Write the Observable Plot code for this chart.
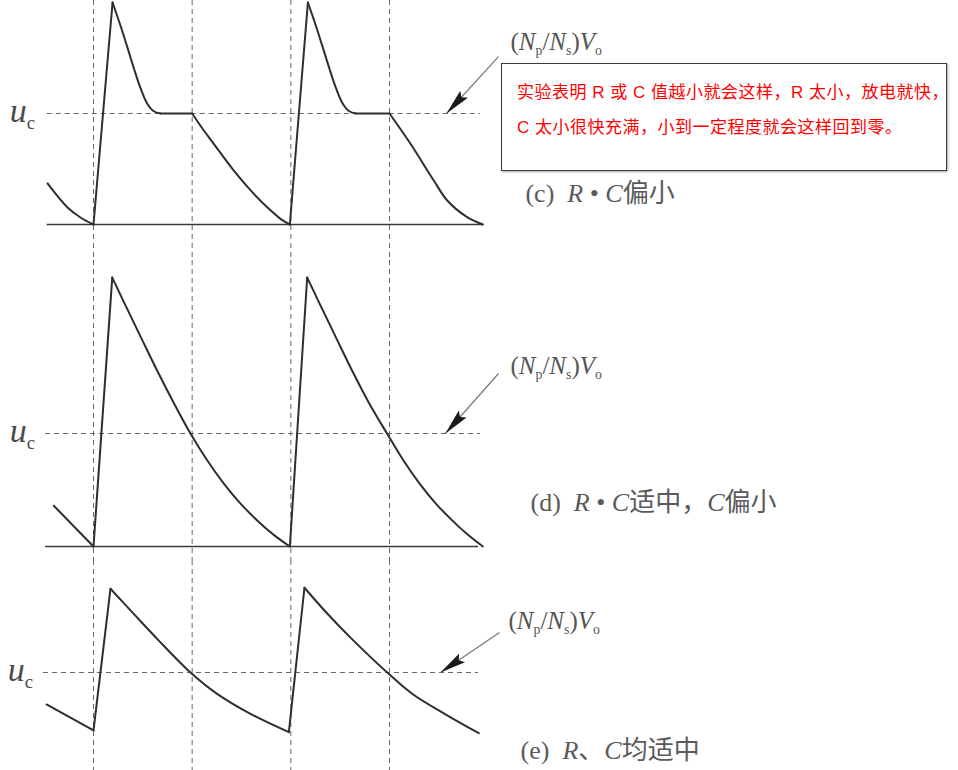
<!DOCTYPE html>
<html>
<head>
<meta charset="utf-8">
<script src="https://cdn.jsdelivr.net/npm/d3@7"></script>
<script src="https://cdn.jsdelivr.net/npm/@observablehq/plot@0.6"></script>
<style>
html,body{margin:0;padding:0;background:#fff;}
#chart{position:relative;width:958px;height:770px;overflow:hidden;background:#fff;}
#chart svg{display:block;overflow:visible;}
#note{position:absolute;left:501px;top:63px;width:446px;height:108px;box-sizing:border-box;
  padding:11px 0 0 15px;border:1.5px solid #3a3a3a;box-shadow:1px 1px 2px rgba(0,0,0,.35);
  color:#ff0000;font-family:"Liberation Sans","Noto Sans CJK SC",sans-serif;font-size:17px;
  letter-spacing:0.5px;line-height:35px;white-space:nowrap;}
</style>
</head>
<body>
<div id="chart"></div>
<script>
// ---------- data (time in switching units, voltage in units of uc) ----------
const switchTimes = [1, 2, 3, 4];

// (c) R·C too small
const cT   = [0.534, 0.737, 0.868, 1.0,   1.0, 1.193,
              1.193, 1.274, 1.342, 1.408, 1.476, 1.544, 1.611, 1.679,
              1.679, 2.0,
              2.0, 2.084, 2.219, 2.422, 2.625, 2.760, 2.895, 2.990,
              2.990, 3.173,
              3.173, 3.254, 3.322, 3.389, 3.457, 3.525, 3.592, 3.660,
              3.660, 4.0,
              4.0, 4.213, 4.449, 4.585, 4.787, 4.945];
const cV   = [0.37, 0.153, 0.063, 0,      0, 2.0,
              2.0, 1.79, 1.60, 1.41, 1.23, 1.09, 1.02, 1.0,
              1.0, 1.0,
              1.0, 0.89, 0.727, 0.486, 0.276, 0.156, 0.051, 0,
              0, 2.0,
              2.0, 1.79, 1.60, 1.41, 1.23, 1.09, 1.02, 1.0,
              1.0, 1.0,
              1.0, 0.727, 0.396, 0.216, 0.066, 0];
const cSeg = [0, 0, 0, 0, 1, 1,
              2, 2, 2, 2, 2, 2, 2, 2,
              3, 3,
              4, 4, 4, 4, 4, 4, 4, 4,
              5, 5,
              6, 6, 6, 6, 6, 6, 6, 6,
              7, 7,
              8, 8, 8, 8, 8, 8];

// (d) R·C moderate, C too small
const dT   = [0.598, 1.0,   1.0, 1.190,
              1.190, 1.307, 1.476, 1.646, 1.814, 1.983, 2.152, 2.321, 2.490, 2.659, 2.827, 2.990,
              2.990, 3.166,
              3.166, 3.283, 3.452, 3.622, 3.792, 3.975, 4.140, 4.305, 4.470, 4.635, 4.795, 4.946];
const dV   = [0.36, 0,      0, 2.38,
              2.38, 2.165, 1.86, 1.555, 1.27, 1.0, 0.763, 0.557, 0.38, 0.231, 0.103, 0,
              0, 2.38,
              2.38, 2.165, 1.86, 1.555, 1.27, 1.0, 0.763, 0.557, 0.38, 0.231, 0.103, 0];
const dSeg = [0, 0, 1, 1,
              2, 2, 2, 2, 2, 2, 2, 2, 2, 2, 2, 2,
              3, 3,
              4, 4, 4, 4, 4, 4, 4, 4, 4, 4, 4, 4];

// (e) R, C both moderate
const eT   = [0.524, 1.0,   1.0, 1.172,
              1.172, 1.408, 1.645, 1.983, 2.253, 2.591, 2.980,
              2.980, 3.138,
              3.138, 3.371, 3.615, 3.977, 4.233, 4.567, 4.905];
const eV   = [0.717, 0.487,  0.487, 1.741,
              1.741, 1.519, 1.298, 1.0, 0.811, 0.634, 0.472,
              0.472, 1.75,
              1.75, 1.52, 1.30, 1.0, 0.81, 0.63, 0.463];
const eSeg = [0, 0, 1, 1,
              2, 2, 2, 2, 2, 2, 2,
              3, 3,
              4, 4, 4, 4, 4, 4, 4];

// extents of the reference lines [start, end] (time units)
const ucSpan   = {c: [0.531, 4.922], d: [0.514, 4.922], e: [0.493, 4.902]};
const baseSpan = {c: [0.531, 4.956], d: [0.514, 4.902], e: null};

// texts
const ucLabel   = "*u*_{c}";
const npnsLabel = "(*N*_{p}/*N*_{s})*V*_{o}";
const captions  = {c: "(c)  *R* • *C*偏小", d: "(d)  *R* • *C*适中，*C*偏小", e: "(e)  *R*、*C*均适中"};
const noteLines = ["实验表明 R 或 C 值越小就会这样，R 太小，放电就快，",
                   "C 太小很快充满，小到一定程度就会这样回到零。"];

// annotation anchors (data units)
const anno = {
  c: {uc: [0.15, 1.02], lab: [5.226, 1.64], arrow: [5.105, 1.513, 4.578, 1.0], cap: [5.378, 0.279]},
  d: {uc: [0.15, 1.02], lab: [5.226, 1.60], arrow: [5.105, 1.531, 4.567, 1.0], cap: [5.429, 0.389]},
  e: {uc: [0.13, 1.02], lab: [5.206, 1.46], arrow: [5.115, 1.354, 4.517, 1.0], cap: [5.328, 0.31]}
};

// ---------- helpers ----------
function rows(T, V, S) { return T.map((t, i) => ({t, v: V[i], seg: S[i]})); }

const serif = "Liberation Serif, 'Noto Sans CJK SC', serif";
const ink = "#2e2e2e";
const textInk = "#4a4a4a";

function panel(key, height, yRange, data) {
  const a = anno[key];
  const marks = [
    Plot.ruleX(switchTimes, {stroke: "#666", strokeWidth: 1, strokeDasharray: "5,4"}),
    Plot.ruleY([{v: 1, a: ucSpan[key][0], b: ucSpan[key][1]}],
      {y: "v", x1: "a", x2: "b", stroke: "#666", strokeWidth: 1, strokeDasharray: "5,4"})
  ];
  if (baseSpan[key]) marks.push(Plot.ruleY([{v: 0, a: baseSpan[key][0], b: baseSpan[key][1]}],
      {y: "v", x1: "a", x2: "b", stroke: "#3a3a3a", strokeWidth: 1.6}));
  marks.push(
    Plot.line(data, {x: "t", y: "v", z: "seg", curve: "catmull-rom", stroke: ink, strokeWidth: 2}),
    Plot.link([{x1: a.arrow[0], y1: a.arrow[1], x2: a.arrow[2], y2: a.arrow[3]}],
      {x1: "x1", y1: "y1", x2: "x2", y2: "y2", stroke: "#777", strokeWidth: 1.2}),
    Plot.text([ucLabel], {x: a.uc[0], y: a.uc[1], text: d => d, textAnchor: "start", fontSize: 34, fontFamily: serif, fill: textInk}),
    Plot.text([npnsLabel], {x: a.lab[0], y: a.lab[1], text: d => d, textAnchor: "start", fontSize: 25, fontFamily: serif, fill: "#555"}),
    Plot.text([captions[key]], {x: a.cap[0], y: a.cap[1], text: d => d, textAnchor: "start", fontSize: 26, fontFamily: serif, fill: "#5a5a5a"})
  );
  return Plot.plot({
    width: 958, height, margin: 0,
    x: {domain: [1, 4], range: [93, 389], axis: null},
    y: {domain: [0, 1], range: yRange, axis: null},
    style: {background: "transparent", overflow: "visible"},
    marks
  });
}

function parseRich(s) {
  const out = []; let it = false, buf = "", i = 0;
  const flush = () => { if (buf) { out.push({t: buf, it, sub: false}); buf = ""; } };
  while (i < s.length) {
    const ch = s[i];
    if (ch === "*") { flush(); it = !it; i++; }
    else if (ch === "_" && s[i + 1] === "{") {
      flush(); const j = s.indexOf("}", i);
      out.push({t: s.slice(i + 2, j), it, sub: true}); i = j + 1;
    } else { buf += ch; i++; }
  }
  flush(); return out;
}

function richify(svg) {
  svg.querySelectorAll("text").forEach(el => {
    const s = el.textContent;
    if (!/[*]|_\{/.test(s)) return;
    let fs = 16, n = el;
    while (n && n !== svg) { if (n.getAttribute && n.getAttribute("font-size")) { fs = parseFloat(n.getAttribute("font-size")); break; } n = n.parentNode; }
    const parts = parseRich(s);
    while (el.firstChild) el.removeChild(el.firstChild);
    let shifted = 0;
    for (const p of parts) {
      const ts = document.createElementNS("http://www.w3.org/2000/svg", "tspan");
      ts.textContent = p.t;
      if (p.it) ts.setAttribute("font-style", "italic");
      if (p.sub) {
        ts.setAttribute("font-size", (fs * 0.55).toFixed(1));
        const target = fs * 0.2;
        ts.setAttribute("dy", (target - shifted).toFixed(1));
        shifted = target;
      } else if (shifted) {
        ts.setAttribute("dy", (-shifted).toFixed(1));
        shifted = 0;
      }
      el.appendChild(ts);
    }
  });
}

function arrowheads(svg, id) {
  const s = d3.select(svg);
  const defs = s.insert("defs", ":first-child");
  defs.append("marker").attr("id", id)
    .attr("viewBox", "0 0 26 11").attr("markerUnits", "userSpaceOnUse")
    .attr("markerWidth", 26).attr("markerHeight", 11)
    .attr("refX", 26).attr("refY", 5.5).attr("orient", "auto")
    .append("path").attr("d", "M0,0.3 L26,5.5 L0,10.7 L4,5.5 Z").attr("fill", "#1a1a1a");
  s.selectAll('g[aria-label="link"] path').attr("marker-end", `url(#${id})`);
}

// ---------- render ----------
const chart = document.getElementById("chart");
const panels = [
  ["c", 260, [224, 113], rows(cT, cV, cSeg)],
  ["d", 300, [286, 173], rows(dT, dV, dSeg)],
  ["e", 210, [225, 112], rows(eT, eV, eSeg)]
];
for (const [key, h, yr, data] of panels) {
  const svg = panel(key, h, yr, data);
  chart.appendChild(svg);
  richify(svg);
  arrowheads(svg, "ah-" + key);
}
const note = document.createElement("div");
note.id = "note";
note.innerHTML = noteLines.map(l => `<div>${l}</div>`).join("");
chart.appendChild(note);
</script>
</body>
</html>
